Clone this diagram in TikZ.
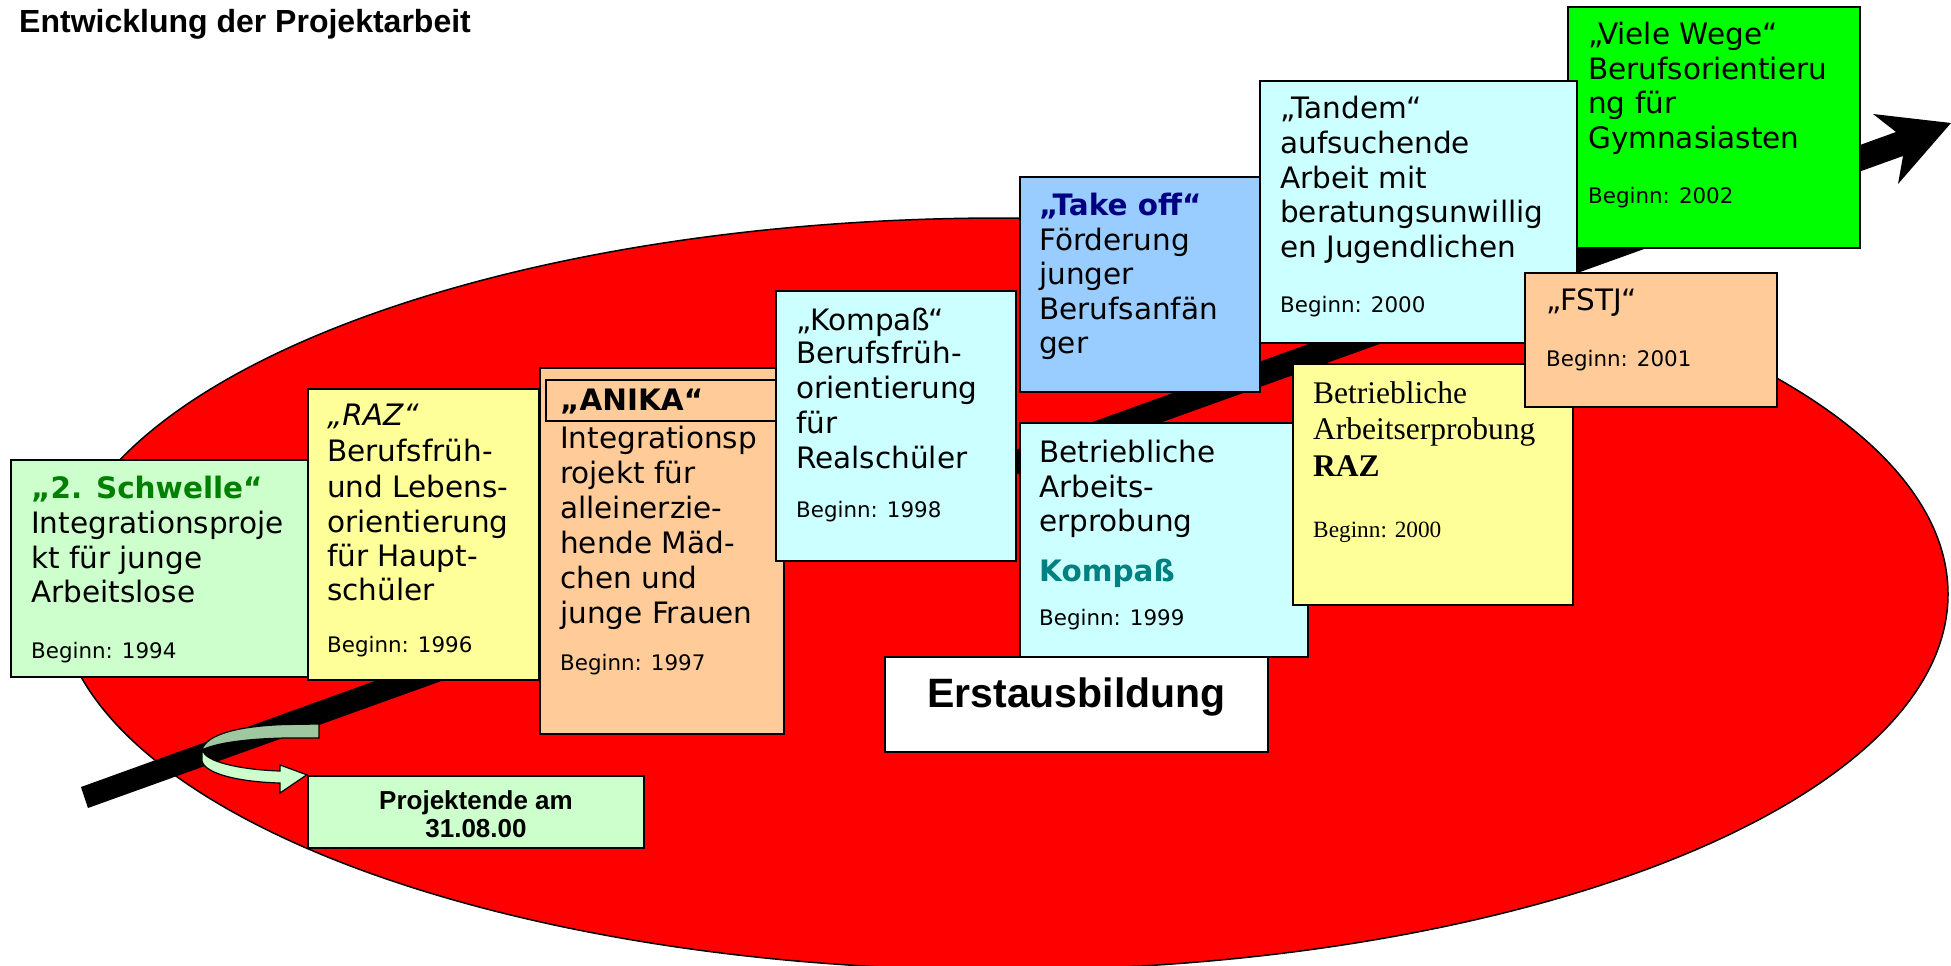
\documentclass[tikz,border=0pt]{standalone}
\usepackage{fontspec}
\setmainfont{DejaVu Sans}
\newfontfamily\libsans{Liberation Sans}
\newfontfamily\libserif{Liberation Serif}
\usetikzlibrary{fit}
\definecolor{lgreen}{HTML}{CCFFCC}
\definecolor{lyellow}{HTML}{FFFF99}
\definecolor{lorange}{HTML}{FFCC99}
\definecolor{lcyan}{HTML}{CCFFFF}
\definecolor{lblue}{HTML}{99CCFF}
\definecolor{bgreen}{HTML}{00FF00}
\definecolor{dgreen}{HTML}{008000}
\definecolor{navyt}{HTML}{000080}
\definecolor{tealt}{HTML}{008080}
\definecolor{shgreen}{HTML}{A0C8A0}
\newcommand\txtbody{\fontsize{29.5}{35}\selectfont}
\newcommand\txtsmall{\fontsize{21.4}{25}\selectfont}
\newcommand\beginyr[1]{{\txtsmall Beginn: #1}}
\newcommand\tlines[3]{\foreach \yy/\tx [count=\k] in {#3} {\node[tl] (#1-\k) at (#2,\yy) {\tx};}}
\begin{document}
\begin{tikzpicture}[x=1pt,y=-1pt,
  tl/.style={anchor=base west, inner sep=0pt, font=\txtbody},
  box/.style={draw=black, line width=2.4pt, inner sep=0pt},
  serif/.style={anchor=base west, inner sep=0pt, font=\libserif\fontsize{31.5}{36}\selectfont}]
\useasboundingbox (0,0) rectangle (1951,966);
\fill[white] (0,0) rectangle (1951,966);
% red ellipse
\draw[line width=1.5pt, fill=red] (1003,594) ellipse [x radius=945pt, y radius=376pt];
% timeline arrow
\coordinate (ta) at (81,787);
\coordinate (tb) at (88,808);
\coordinate (tip) at (1951,123);
\fill[black] (ta) -- (1896,132) -- (1873,114) -- (tip) -- (1898,184) -- (1903,156) -- (tb) -- cycle;

% 2. Schwelle
\node[box, fill=lgreen, fit={(11,460) (308,677)}] (b1) {};
\tlines{s}{31}{498/{\bfseries\color{dgreen}„2. Schwelle“}, 533/Integrationsproje, 568/kt für junge, 602/Arbeitslose, 658/\beginyr{1994}}

% RAZ
\node[box, fill=lyellow, fit={(308,389) (539,680)}] (b2) {};
\tlines{r}{327}{425/{\itshape „RAZ“}, 461/Berufsfrüh-, 497/und Lebens-, 532/orientierung, 566/für Haupt-, 600/schüler, 652/\beginyr{1996}}

% ANIKA
\node[box, fill=lorange, fit={(540,368) (784,734)}] (b3) {};
\node[box, fill=lorange, fit={(546,380) (784,421)}] (b3h) {};
\tlines{a}{560}{410/{\bfseries „ANIKA“}, 448/Integrationsp, 483/rojekt für, 518/alleinerzie-, 553/hende Mäd-, 588/chen und, 623/junge Frauen, 670/\beginyr{1997}}

% Kompass
\node[box, fill=lcyan, fit={(776,291) (1016,561)}] (b4) {};
\tlines{k}{796}{330/„Kompaß“, 363/Berufsfrüh-, 398/orientierung, 433/für, 468/Realschüler, 517/\beginyr{1998}}

% Take off
\node[box, fill=lblue, fit={(1020,177) (1260,392)}] (b5) {};
\tlines{o}{1039}{215/{\bfseries\color{navyt}„Take off“}, 250/Förderung, 284/junger, 319/Berufsanfän, 353/ger}

% Betriebliche Arbeitserprobung Kompass
\node[box, fill=lcyan, fit={(1020,423) (1308,657)}] (b6) {};
\tlines{bk}{1039}{462/Betriebliche, 497/Arbeits-, 531/erprobung, 581/{\bfseries\color{tealt}Kompaß}, 625/\beginyr{1999}}

% Erstausbildung
\node[box, fill=white, fit={(885,657) (1268,752)}] (b7) {};
\node[anchor=base, inner sep=0pt, font=\libsans\bfseries\fontsize{41}{48}\selectfont] (erst) at (1076.5,707) {Erstausbildung};

% Betriebliche Arbeitserprobung RAZ
\node[box, fill=lyellow, fit={(1293,364) (1573,605)}] (b8) {};
\node[serif] (br-1) at (1313,403) {Betriebliche};
\node[serif] (br-2) at (1313,439) {Arbeitserprobung};
\node[serif] (br-3) at (1313,476) {\bfseries RAZ};
\node[serif, font=\libserif\fontsize{23.3}{27}\selectfont] (br-4) at (1313,537) {Beginn: 2000};

% Viele Wege
\node[box, fill=bgreen, fit={(1568,7) (1860,248)}] (b11) {};
\tlines{v}{1588}{45/„Viele Wege“, 79/Berufsorientieru, 113/ng für, 148/Gymnasiasten, 203/\beginyr{2002}}

% Tandem
\node[box, fill=lcyan, fit={(1260,81) (1577,343)}] (b9) {};
\tlines{t}{1280}{118/„Tandem“, 153/aufsuchende, 188/Arbeit mit, 222/beratungsunwillig, 257/en Jugendlichen, 312/\beginyr{2000}}

% FSTJ
\node[box, fill=lorange, fit={(1525,273) (1777,407)}] (b10) {};
\tlines{f}{1546}{310/„FSTJ“, 366/\beginyr{2001}}

% Projektende
\node[box, fill=lgreen, fit={(308,776) (644,848)}] (pe) {};
\node[anchor=base, inner sep=0pt, font=\libsans\bfseries\fontsize{26}{30}\selectfont] (pe-1) at (476,809) {Projektende am};
\node[anchor=base, inner sep=0pt, font=\libsans\bfseries\fontsize{26}{30}\selectfont] (pe-2) at (476,837) {31.08.00};

% U-turn arrow
\draw[line width=1.2pt, fill=shgreen] (319,724) -- (285,724.5) .. controls (240,726) and (206,734) .. (202,750) .. controls (214,744) and (240,739) .. (285,738) -- (319,738) -- cycle;
\draw[line width=1.2pt, fill=lgreen] (202,750) -- (202,761) .. controls (205,774) and (240,782) .. (280,783) -- (280,793) -- (pe.north west) -- (280,765) -- (280,771) .. controls (245,770) and (210,763) .. (204,753) -- cycle;

% title
\node[anchor=base west, inner sep=0pt, font=\libsans\bfseries\fontsize{32}{38}\selectfont] (title) at (19,33) {Entwicklung der Projektarbeit};
\end{tikzpicture}
\end{document}
